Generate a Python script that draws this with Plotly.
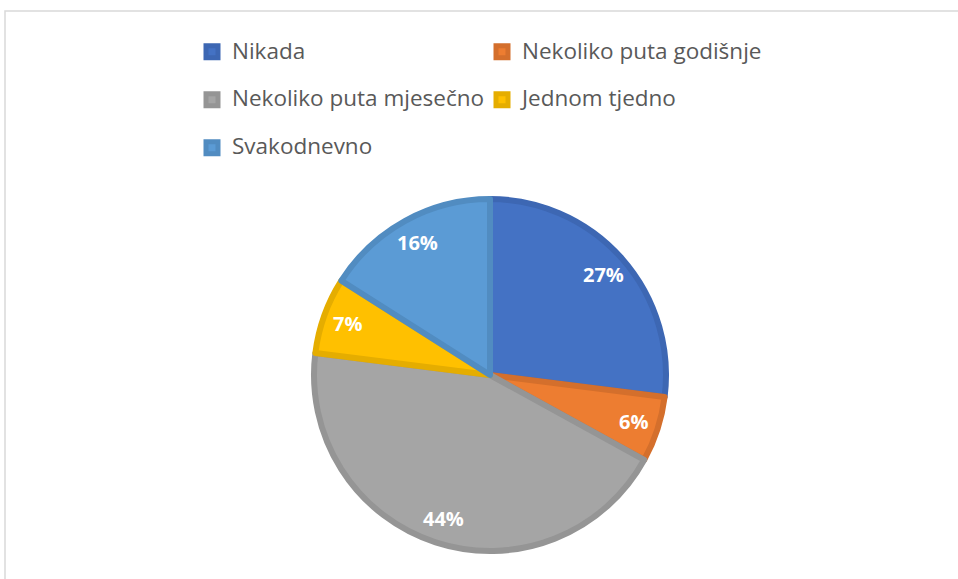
import math
import plotly.graph_objects as go

categories = ["Nikada", "Nekoliko puta godišnje", "Nekoliko puta mjesečno", "Jednom tjedno", "Svakodnevno"]
values = [27, 6, 44, 7, 16]
fill_colors = ["#4472C4", "#ED7D31", "#A5A5A5", "#FFC000", "#5B9BD5"]
line_colors = ["#3D67B3", "#D46F2C", "#959595", "#E5AD00", "#518CC1"]

W, H = 958, 579
ML, MR = 150, 150
PW, PH = W - ML - MR, H

dom_x = [(490 - 176 - ML) / PW, (490 + 176 - ML) / PW]
dom_y = [(H - 551) / H, (H - 199) / H]

legend_labels = ['<span style="font-size:22.5px">%s</span><br>&nbsp;' % c for c in categories]

fig = go.Figure(go.Pie(
    labels=legend_labels,
    values=values,
    sort=False,
    direction="clockwise",
    rotation=0,
    marker=dict(colors=fill_colors, line=dict(color=line_colors, width=6)),
    textinfo="none",
    domain=dict(x=dom_x, y=dom_y),
    customdata=categories,
    hovertemplate="%{customdata}: %{percent}<extra></extra>",
))

# percentage labels placed along each slice's middle angle
total = sum(values)
cx = (dom_x[0] + dom_x[1]) / 2
cy = (dom_y[0] + dom_y[1]) / 2
r_px = (dom_y[1] - dom_y[0]) * PH / 2
d_px = 0.86 * r_px
annotations = []
cum = 0
for v in values:
    theta = 2 * math.pi * (cum + v / 2) / total
    cum += v
    annotations.append(dict(
        x=cx + d_px * math.sin(theta) / PW,
        y=cy + d_px * math.cos(theta) / PH,
        xref="paper", yref="paper", showarrow=False,
        text="<b>%d%%</b>" % round(100 * v / total),
        font=dict(family="Open Sans", size=20, color="white"),
        xanchor="center", yanchor="middle",
    ))

fig.update_layout(
    width=W, height=H,
    margin=dict(l=ML, r=MR, t=0, b=0, autoexpand=False),
    paper_bgcolor="white",
    plot_bgcolor="white",
    showlegend=True,
    annotations=annotations,
    legend=dict(
        orientation="h",
        x=(192 - ML) / PW, xanchor="left",
        y=1 - 34 / H, yanchor="top",
        entrywidth=245,
        entrywidthmode="pixels",
        font=dict(family="Open Sans", size=17.3, color="#595959"),
        valign="top",
        traceorder="normal",
    ),
    shapes=[dict(type="rect", xref="paper", yref="paper",
                 x0=(5 - ML) / PW, x1=1.5, y0=-0.05, y1=1 - 11 / H,
                 line=dict(color="#D9D9D9", width=1.5), layer="below")],
)

fig.write_html("out.html", config={"displayModeBar": False},
               post_script="document.body.style.margin='0';")
